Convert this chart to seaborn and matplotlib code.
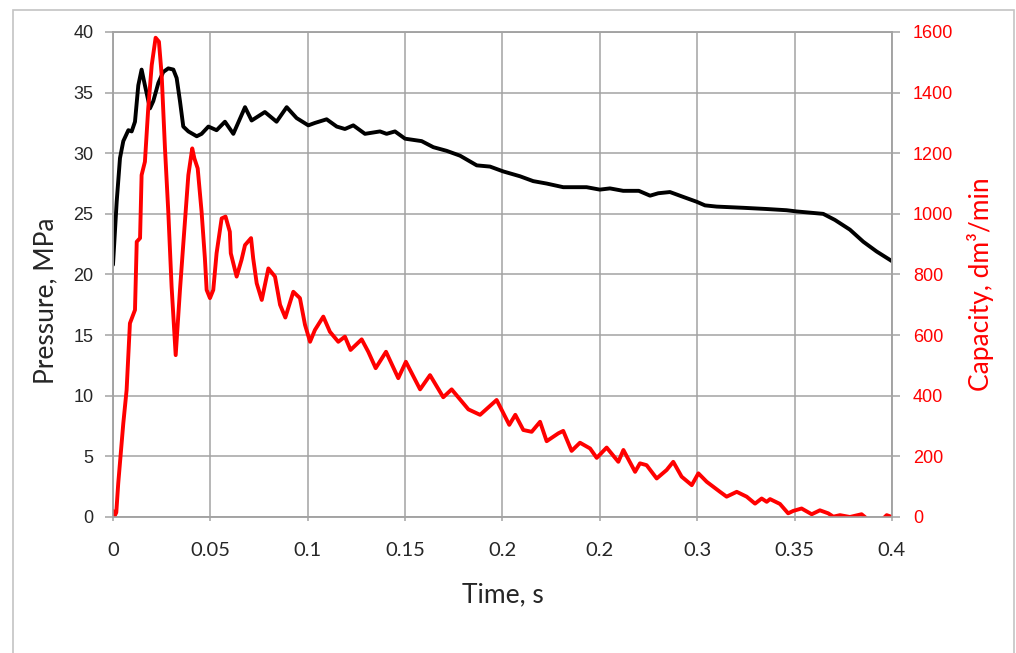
import numpy as np
import seaborn as sns
import matplotlib.pyplot as plt
from matplotlib.patches import Rectangle

# Pressure trace (MPa) against time (s)
time_p = [0.0, 0.0019, 0.0036, 0.0053, 0.0079, 0.0096, 0.0113, 0.013, 0.0147, 0.0164,
          0.019, 0.0207, 0.0233, 0.0258, 0.0284, 0.031, 0.0327, 0.0344, 0.0361, 0.0387,
          0.043, 0.0455, 0.049, 0.0532, 0.0575, 0.0618, 0.0678, 0.0712, 0.078, 0.084,
          0.0892, 0.0943, 0.1003, 0.1037, 0.1097, 0.1149, 0.1191, 0.1234, 0.1294, 0.1371,
          0.1405, 0.1448, 0.15, 0.1585, 0.1645, 0.1713, 0.1782, 0.1868, 0.1936, 0.2004,
          0.209, 0.2158, 0.2227, 0.2312, 0.2432, 0.25, 0.2552, 0.262, 0.27, 0.2758,
          0.28, 0.286, 0.2928, 0.2997, 0.304, 0.31, 0.3237, 0.3357, 0.3459, 0.351,
          0.3579, 0.3647, 0.3707, 0.3784, 0.3853, 0.3921, 0.4]
pressure = [20.8, 26.0, 29.6, 31.0, 31.9, 31.8, 32.6, 35.6, 36.9, 35.6,
            33.7, 34.3, 35.8, 36.7, 37.0, 36.9, 36.2, 34.3, 32.2, 31.8,
            31.4, 31.6, 32.2, 31.9, 32.6, 31.6, 33.8, 32.7, 33.4, 32.6,
            33.8, 32.9, 32.3, 32.5, 32.8, 32.2, 32.0, 32.3, 31.6, 31.8,
            31.6, 31.8, 31.2, 31.0, 30.5, 30.2, 29.8, 29.0, 28.9, 28.5,
            28.1, 27.7, 27.5, 27.2, 27.2, 27.0, 27.1, 26.9, 26.9, 26.5,
            26.7, 26.8, 26.4, 26.0, 25.7, 25.6, 25.5, 25.4, 25.3, 25.2,
            25.1, 25.0, 24.5, 23.7, 22.7, 21.9, 21.1]

# Capacity trace (dm3/min) against time (s)
time_q = [0.0, 0.0006, 0.0017, 0.0027, 0.0053, 0.007, 0.0087, 0.0113, 0.0122, 0.0139,
          0.0147, 0.0164, 0.0181, 0.0199, 0.0219, 0.0236, 0.025, 0.0267, 0.0284, 0.0301,
          0.0322, 0.0344, 0.0361, 0.0387, 0.0407, 0.0418, 0.0435, 0.0455, 0.0472, 0.0481,
          0.0498, 0.0515, 0.0532, 0.0558, 0.0578, 0.06, 0.0605, 0.0635, 0.066, 0.0678,
          0.0709, 0.072, 0.0738, 0.0764, 0.0798, 0.0832, 0.0858, 0.0885, 0.0926, 0.096,
          0.0986, 0.1012, 0.1037, 0.108, 0.1114, 0.1157, 0.1191, 0.122, 0.1277, 0.1311,
          0.1349, 0.1402, 0.1465, 0.1504, 0.1577, 0.1628, 0.1696, 0.1739, 0.1825, 0.1885,
          0.197, 0.2035, 0.2066, 0.2107, 0.215, 0.2193, 0.2227, 0.2287, 0.2312, 0.2355,
          0.2398, 0.245, 0.2484, 0.2535, 0.2595, 0.2621, 0.2681, 0.2706, 0.274, 0.2792,
          0.2843, 0.2877, 0.292, 0.2972, 0.3006, 0.3049, 0.3117, 0.3151, 0.3203, 0.3254,
          0.3297, 0.3331, 0.3357, 0.3374, 0.3425, 0.3467, 0.3493, 0.3536, 0.3588, 0.363,
          0.3673, 0.3699, 0.3733, 0.3784, 0.3844, 0.3861, 0.389, 0.394, 0.3973, 0.4]
capacity = [20, 0, 15, 111, 309, 419, 639, 683, 908, 920,
            1128, 1172, 1348, 1491, 1581, 1568, 1458, 1216, 1007, 760,
            534, 749, 900, 1128, 1216, 1183, 1150, 1007, 853, 749,
            722, 749, 870, 985, 991, 941, 870, 793, 848, 897,
            920, 853, 771, 716, 820, 793, 700, 658, 743, 722,
            634, 578, 617, 661, 611, 578, 595, 551, 586, 545,
            491, 545, 458, 512, 421, 468, 395, 421, 355, 337,
            386, 304, 337, 287, 281, 314, 250, 276, 284, 218,
            245, 226, 195, 229, 182, 221, 149, 177, 171, 127,
            155, 182, 133, 105, 144, 116, 83, 67, 83, 67,
            44, 61, 50, 59, 43, 12, 20, 28, 9, 22,
            12, 1, 6, 0, 9, 0, -20, -15, 6, 0]

x_ticks = [0, 0.05, 0.1, 0.15, 0.2, 0.25, 0.3, 0.35, 0.4]
x_tick_labels = ["0", "0.05", "0.1", "0.15", "0.2", "0.2", "0.3", "0.35", "0.4"]
p_ticks = [0, 5, 10, 15, 20, 25, 30, 35, 40]
q_ticks = [0, 200, 400, 600, 800, 1000, 1200, 1400, 1600]

sns.set_style("white")
plt.rcParams['font.family'] = ['Lato', 'DejaVu Sans']

GRID = '#a3a3a3'

fig = plt.figure(figsize=(10.16, 6.53), dpi=100)
fig.patches.append(Rectangle((13 / 1016, -0.05), 1001 / 1016, 0.9847 + 0.05,
                             transform=fig.transFigure, fill=False,
                             edgecolor='#c4c4c4', lw=1.2))

ax = fig.add_axes([0.1112, 0.2083, 0.7667, 0.7427])
sns.lineplot(x=time_p, y=pressure, ax=ax, color='black', lw=2.8)
ax.set_xlim(0, 0.4)
ax.set_ylim(0, 40)
ax.set_xticks(x_ticks)
ax.set_xticklabels(x_tick_labels)
ax.set_yticks(p_ticks)
ax.grid(True, color=GRID, lw=1.1)
for s in ax.spines.values():
    s.set_color(GRID)
    s.set_linewidth(1.1)
ax.tick_params(axis='y', direction='out', length=6, width=1.1, color=GRID,
               pad=8, labelsize=13, left=True)
ax.tick_params(axis='x', direction='out', length=3, width=1.1, color=GRID,
               pad=15, labelsize=14.5, bottom=True)
for lab in ax.get_yticklabels():
    lab.set_fontfamily('Liberation Sans')

ax.set_xlabel('Time, s', fontsize=19)
ax.xaxis.label.set_va('center')
ax.xaxis.set_label_coords(0.5, -0.161)
ax.set_ylabel('Pressure, MPa', fontsize=19)
ax.yaxis.label.set_va('center')
ax.yaxis.set_label_coords(-0.086, 0.445)

ax2 = ax.twinx()
sns.lineplot(x=time_q, y=capacity, ax=ax2, color='#ff0000', lw=2.8)
ax2.set_ylim(0, 1600)
ax2.set_yticks(q_ticks)
for s in ax2.spines.values():
    s.set_color(GRID)
    s.set_linewidth(1.1)
ax2.tick_params(axis='y', direction='out', length=6, width=1.1, color=GRID,
                pad=9, labelsize=13, labelcolor='#ff0000', right=True)
for lab in ax2.get_yticklabels():
    lab.set_fontfamily('Liberation Sans')
ax2.set_ylabel('Capacity, dm³/min', fontsize=19, color='#ff0000')
ax2.yaxis.label.set_va('center')
ax2.yaxis.set_label_coords(1.114, 0.48)

fig.savefig('out.png', dpi=100)
